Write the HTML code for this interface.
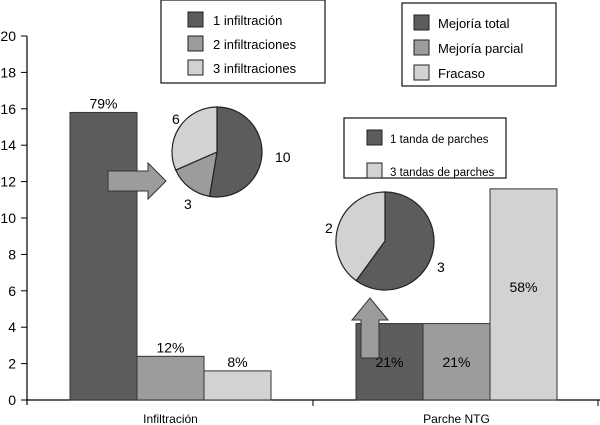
<!DOCTYPE html>
<html><head><meta charset="utf-8"><style>
body{margin:0;background:#fff}
svg{font-family:"Liberation Sans",sans-serif;display:block}
</style></head><body>
<svg id="c" width="600" height="425" viewBox="0 0 600 425"></svg>
<script>
const categories=["Infiltración","Parche NTG"];
const mejoriaTotal=[15.8,4.2];
const mejoriaParcial=[2.4,4.2];
const fracaso=[1.6,11.6];
const pctLabels=[["79%","12%","8%"],["21%","21%","58%"]];
const yTicks=[0,2,4,6,8,10,12,14,16,18,20];
const pie1Values=[10,3,6];
const pie2Values=[3,2];
const NS="http://www.w3.org/2000/svg";
const svg=document.getElementById("c");
const cols=["#5c5c5c","#9c9c9c","#d2d2d2"];
function y(v){return 400-v*18.2;}
function el(t,a,txt){const e=document.createElementNS(NS,t);for(const k in a)e.setAttribute(k,a[k]);if(txt!==undefined)e.textContent=txt;svg.appendChild(e);return e;}
let ax=el("line",{x1:27,y1:y(20),x2:27,y2:405,stroke:"#000","stroke-width":1.2});


let xx=el("line",{x1:27,y1:400,x2:600,y2:400,stroke:"#000","stroke-width":1.2});


[313,598].forEach(x=>el("line",{x1:x,y1:400,x2:x,y2:406,stroke:"#000"}));
yTicks.forEach(t=>{el("line",{x1:21,y1:y(t),x2:27,y2:y(t),stroke:"#000"});
 const l=el("text",{x:16,y:y(t)+5,"text-anchor":"end","font-size":14},t);
 
 });
const groupX=[70,356],bw=67;
categories.forEach((c,i)=>{
 const vals=[mejoriaTotal[i],mejoriaParcial[i],fracaso[i]];
 vals.forEach((v,j)=>{
  const r=el("rect",{x:groupX[i]+j*bw,y:y(v),width:bw,height:400-y(v),fill:cols[j],stroke:"#333","stroke-width":1});
  
  
 });
 const lb=el("text",{x:groupX[i]+bw*1.5,y:423,"text-anchor":"middle","font-size":12},c);
 
 
});
[[0,0,y(15.8)-4],[0,1,y(2.4)-4],[0,2,y(1.6)-4],[1,0,367],[1,1,367],[1,2,292]].forEach(([i,j,yy])=>{
 const t=el("text",{x:groupX[i]+j*bw+bw/2,y:yy,"text-anchor":"middle","font-size":14},pctLabels[i][j]);
 
 
});
let a1=el("path",{d:"M108,171 H148 V163 L166,181 L148,199 V191 H108 Z",fill:"#9c9c9c",stroke:"#333"});


let a2=el("path",{d:"M361,358 V320 H352 L370,298 L388,320 H379 V358 Z",fill:"#9c9c9c",stroke:"#333"});


function pie(cx,cy,r,vals,fills,name){
 const tot=vals.reduce((a,b)=>a+b,0);let a=0;
 vals.forEach((v,k)=>{const a0=a,a1=a+v/tot*2*Math.PI;a=a1;
  const x0=cx+r*Math.sin(a0),y0=cy-r*Math.cos(a0),x1=cx+r*Math.sin(a1),y1=cy-r*Math.cos(a1);
  const p=el("path",{d:`M${cx},${cy} L${x0},${y0} A${r},${r} 0 ${a1-a0>Math.PI?1:0} 1 ${x1},${y1} Z`,fill:fills[k],stroke:"#222","stroke-width":1.2});
  
  });
}
pie(217,152,45,pie1Values,cols,"pie-infiltration");
pie(385,241,49,pie2Values,[cols[0],cols[2]],"pie-parche");
[[275,162,"10"],[184,209,"3"],[172,124,"6"],[437,272,"3"],[325,233,"2"]].forEach(([x,yy,t])=>{
 const e=el("text",{x:x,y:yy,"font-size":14},t);
 
 });
function legend(x,yb,w,h,items,name,gap,sq,tx,fs){
 const b=el("rect",{x:x,y:yb,width:w,height:h,fill:"#fff",stroke:"#222","stroke-width":1.3});
 
 
 items.forEach(([lab,f],k)=>{const yy=yb+12+k*gap;
  el("rect",{x:x+sq,y:yy,width:15,height:15,fill:f,stroke:"#222"});
  const t=el("text",{x:x+tx,y:yy+13,"font-size":fs},lab);
  
  });
}
legend(161,0,164,83,[["1 infiltración",cols[0]],["2 infiltraciones",cols[1]],["3 infiltraciones",cols[2]]],"legend-infiltrations",24,27,52,13);
legend(402,3,154,83,[["Mejoría total",cols[0]],["Mejoría parcial",cols[1]],["Fracaso",cols[2]]],"legend-outcome",25,12,36,13);
legend(344,118,162,60,[["1 tanda de parches",cols[0]],["3 tandas de parches",cols[2]]],"legend-parches",33,23,46,11.5);
</script>
</body></html>
